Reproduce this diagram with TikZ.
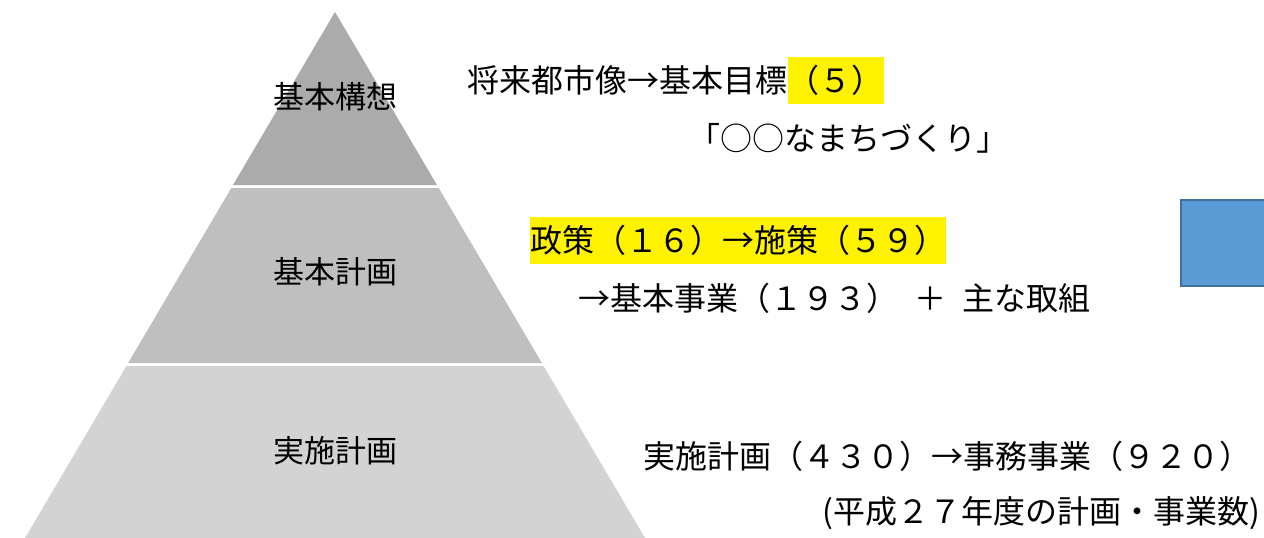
\documentclass[tikz,border=0pt]{standalone}
\usepackage{fontspec}
\newfontfamily\jpfont{Noto Sans CJK JP}
\usetikzlibrary{positioning}
\definecolor{tierA}{HTML}{ABABAB}
\definecolor{tierB}{HTML}{BFBFBF}
\definecolor{tierC}{HTML}{D3D3D3}
\definecolor{boxblue}{HTML}{5B9BD5}
\definecolor{boxedge}{HTML}{41719C}
\begin{document}
\begin{tikzpicture}[x=1pt,y=-1pt,
    tier/.style={inner sep=0pt,font=\jpfont\fontsize{31}{36}\selectfont},
    note/.style={anchor=west,inner sep=0pt,text height=28pt,text depth=4pt,
      font=\jpfont\fontsize{32}{38}\selectfont},
    hilite/.style={fill=yellow,minimum height=47pt}]
  \useasboundingbox (0,0) rectangle (1264,538);

  % pyramid
  \fill[tierA] (335,12) -- (437,185) -- (233,185) -- cycle;
  \fill[tierB] (231.3,188) -- (438.7,188) -- (541.9,363) -- (128.1,363) -- cycle;
  \fill[tierC] (126.4,366) -- (543.6,366) -- (645,538) -- (25,538) -- cycle;

  \node[tier] (vision) at (335,97) {基本構想};
  \node[tier] (basic) at (335,272) {基本計画};
  \node[tier] (action) at (335,451) {実施計画};

  % notes
  \node[note] (goal) at (467,80) {将来都市像→基本目標};
  \node[note, hilite, right=0pt of goal] (goalnum) {（５）};
  \node[note] (motto) at (688,138) {「○○なまちづくり」};

  \node[note, hilite] (policy) at (530,240) {政策（１６）→施策（５９）};
  \node[note] (project) at (578,298) {→基本事業（１９３）\hspace{0.5em}＋\hspace{0.5em}主な取組};

  \node[note] (work) at (643,456) {実施計画（４３０）→事務事業（９２０）};
  \node[note] (count) at (822,511) {(平成２７年度の計画・事業数)};

  % box at the edge
  \draw[boxedge, line width=2pt, fill=boxblue] (1181,200) rectangle (1290,286);
\end{tikzpicture}
\end{document}
